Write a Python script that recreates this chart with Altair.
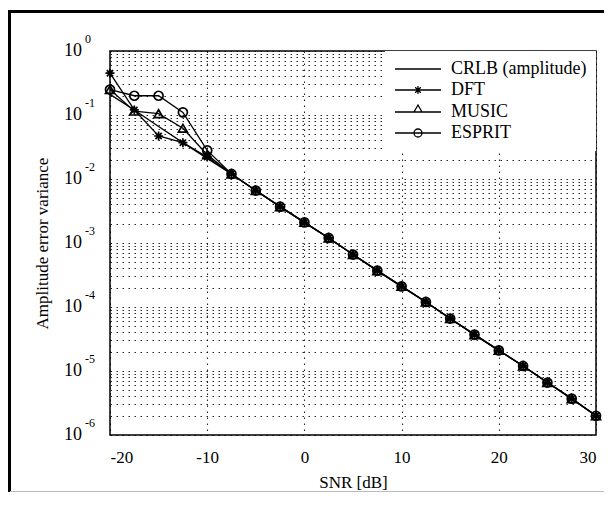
import altair as alt
import pandas as pd

# ---- data ----
snr = [-20, -17.5, -15, -12.5, -10, -7.5, -5, -2.5, 0, 2.5, 5, 7.5,
       10, 12.5, 15, 17.5, 20, 22.5, 25, 27.5, 30]
crlb = [0.21, 0.12, 0.066, 0.037, 0.021, 0.012, 0.0066, 0.0037, 0.0021, 0.0012,
        6.6e-4, 3.7e-4, 2.1e-4, 1.2e-4, 6.6e-5, 3.7e-5, 2.1e-5, 1.2e-5,
        6.6e-6, 3.7e-6, 2.0e-6]
dft = [0.45, 0.12, 0.047, 0.037, 0.022, 0.012, 0.0066, 0.0037, 0.0021, 0.0012,
       6.6e-4, 3.7e-4, 2.1e-4, 1.2e-4, 6.6e-5, 3.7e-5, 2.1e-5, 1.2e-5,
       6.6e-6, 3.7e-6, 2.0e-6]
music = [0.25, 0.115, 0.105, 0.062, 0.024, 0.012, 0.0066, 0.0037, 0.0021, 0.0012,
         6.6e-4, 3.7e-4, 2.1e-4, 1.2e-4, 6.6e-5, 3.7e-5, 2.1e-5, 1.2e-5,
         6.6e-6, 3.7e-6, 2.0e-6]
esprit = [0.25, 0.20, 0.20, 0.11, 0.028, 0.012, 0.0066, 0.0037, 0.0021, 0.0012,
          6.6e-4, 3.7e-4, 2.1e-4, 1.2e-4, 6.6e-5, 3.7e-5, 2.1e-5, 1.2e-5,
          6.6e-6, 3.7e-6, 2.0e-6]

series_names = ["CRLB (amplitude)", "DFT", "MUSIC", "ESPRIT"]
x_ticks = [-20, -10, 0, 10, 20, 30]
y_major = [1, 1e-1, 1e-2, 1e-3, 1e-4, 1e-5, 1e-6]
y_exp = ["0", "-1", "-2", "-3", "-4", "-5", "-6"]

# ---- tables ----
rows = []
for name, vals in zip(series_names, [crlb, dft, music, esprit]):
    for s, v in zip(snr, vals):
        rows.append({"snr": s, "var": v, "series": name})
df = pd.DataFrame(rows)

y_minor = []
for k in range(-6, 0):
    for m in range(1, 10):
        y_minor.append(m * 10.0 ** k)
y_minor.append(1.0)

ylab = pd.DataFrame({"var": y_major, "e": y_exp})

FONT = "Liberation Serif"
DOT = [1.5, 4.5]

x_enc = alt.X(
    "snr:Q",
    scale=alt.Scale(domain=[-20, 30], nice=False, zero=False),
    axis=alt.Axis(
        values=x_ticks, grid=True, gridDash=DOT, gridColor="black", gridOpacity=0.85,
        gridWidth=1.1, ticks=False, domain=False,
        labelExpr="(datum.value < 0 ? '-' : '') + abs(datum.value)",
        labelFont=FONT, labelFontSize=17, labelColor="black", labelPadding=14,
        title="SNR [dB]", titleFont=FONT, titleFontSize=17, titleFontWeight="normal",
        titleColor="black", titlePadding=9,
    ),
)
y_enc = alt.Y(
    "var:Q",
    scale=alt.Scale(type="log", domain=[1e-6, 1], nice=False),
    axis=alt.Axis(
        values=y_minor, grid=True, gridDash=DOT, gridColor="black", gridOpacity=0.85,
        gridWidth=1.1, ticks=False, domain=False, labels=False,
        title="Amplitude error variance", titleFont=FONT, titleFontSize=17,
        titleFontWeight="normal", titleColor="black", titlePadding=59,
    ),
)

base = alt.Chart(df)

lines = base.mark_line(color="black", strokeWidth=1.3).encode(
    x=x_enc, y=y_enc, detail="series:N", order="snr:Q"
)

star = "M-1,0L1,0M0,-1L0,1M-0.7,-0.7L0.7,0.7M-0.7,0.7L0.7,-0.7"
markers = base.transform_filter("datum.series != 'CRLB (amplitude)'").mark_point(
    filled=False, color="black", strokeWidth=1.7, size=81, opacity=1
).encode(
    x=x_enc, y=y_enc,
    shape=alt.Shape("series:N",
                    scale=alt.Scale(domain=["DFT", "MUSIC", "ESPRIT"],
                                    range=[star, "triangle-up", "circle"]),
                    legend=None),
)

# legend symbols: a line with the marker in its middle (unit = 8 px)
leg_paths = [
    "M-1,0L4.75,0",
    "M-1,0L4.75,0M1.375,0L2.375,0M1.875,-0.5L1.875,0.5M1.525,-0.35L2.225,0.35M1.525,0.35L2.225,-0.35",
    "M-1,0L4.75,0M1.375,0L1.875,-0.875L2.375,0Z",
    "M-1,0L4.75,0M1.375,0A0.5,0.5 0 1,0 2.375,0A0.5,0.5 0 1,0 1.375,0",
]
legend_layer = base.transform_filter("false").mark_point(
    filled=False, color="black", strokeWidth=1.3, opacity=1
).encode(
    x=x_enc, y=y_enc,
    shape=alt.Shape("series:N",
                    scale=alt.Scale(domain=series_names, range=leg_paths),
                    legend=alt.Legend(
                        title=None, orient="top-right", offset=0,
                        fillColor="white", padding=9, rowPadding=3,
                        symbolSize=256, symbolStrokeWidth=1.3,
                        symbolFillColor="transparent", symbolStrokeColor="black",
                        labelFont=FONT, labelFontSize=18, labelColor="black",
                        labelOffset=39, labelLimit=300,
                    )),
)

ten = alt.Chart(ylab).mark_text(
    align="right", baseline="middle", font=FONT, fontSize=18, color="black"
).encode(y=y_enc, x=alt.value(-28), text=alt.value("10"))

expo = alt.Chart(ylab).mark_text(
    align="left", baseline="middle", font=FONT, fontSize=12, color="black", dy=-12
).encode(y=y_enc, x=alt.value(-25), text="e:N")

# scanned page border (decoration)
one = pd.DataFrame({"k": [0]})
frame_left = alt.Chart(one).mark_rect(color="black").encode(
    x=alt.value(-102), x2=alt.value(-99), y=alt.value(-41), y2=alt.value(460))
frame_top = alt.Chart(one).mark_rect(color="black").encode(
    x=alt.value(-102), x2=alt.value(520), y=alt.value(-41), y2=alt.value(-38))
frame_bottom = alt.Chart(one).mark_rect(color="#bbbbbb").encode(
    x=alt.value(-100), x2=alt.value(520), y=alt.value(440), y2=alt.value(441))

chart = alt.layer(
    lines, markers, legend_layer, ten, expo, frame_left, frame_top, frame_bottom
).resolve_scale(shape="independent").resolve_legend(shape="independent").properties(
    width=486, height=384,
    autosize=alt.AutoSizeParams(type="none"),
    padding={"left": 102, "top": 43, "right": 8, "bottom": 57},
    background="white",
).configure_view(stroke="black", strokeWidth=1.5)

chart.save("out.html", embed_options={"renderer": "svg", "actions": False})
